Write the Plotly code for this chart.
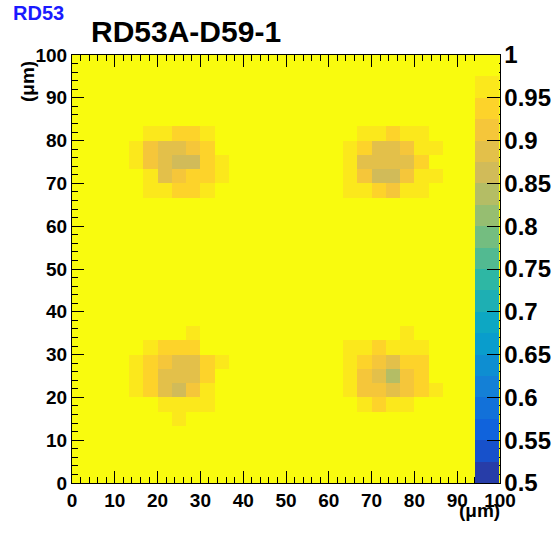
import plotly.graph_objects as go

# ---------------- data ----------------
N_BINS = 30                 # 30 x 30 bins over 0..100 um
X_RANGE = [0, 100]
Y_RANGE = [0, 100]
Z_MIN, Z_MAX = 0.5, 1.0
N_CONTOURS = 20

# efficiency levels
YEL, PAL, ORA, DOR, TAN, GRY, GRN = 1.0, 0.962, 0.938, 0.912, 0.888, 0.862, 0.838

# blobs: rows listed from top to bottom; origin = (first x bin, lowest y bin)
blob_top_left = [
    [YEL, PAL, PAL, ORA, ORA, PAL, YEL],
    [PAL, DOR, TAN, TAN, DOR, ORA, YEL],
    [PAL, DOR, TAN, GRY, GRY, ORA, PAL],
    [YEL, PAL, TAN, DOR, ORA, ORA, PAL],
    [YEL, PAL, PAL, ORA, ORA, PAL, YEL],
]
blob_top_left_origin = (4, 20)

blob_top_right = [
    [YEL, PAL, PAL, ORA, PAL, PAL, YEL],
    [PAL, ORA, TAN, TAN, DOR, PAL, PAL],
    [PAL, TAN, TAN, TAN, TAN, ORA, YEL],
    [PAL, DOR, GRY, GRY, DOR, PAL, PAL],
    [PAL, PAL, ORA, DOR, PAL, PAL, YEL],
]
blob_top_right_origin = (19, 20)

blob_bottom_left = [
    [YEL, YEL, YEL, YEL, PAL, YEL, YEL],
    [YEL, PAL, ORA, ORA, ORA, YEL, YEL],
    [PAL, ORA, DOR, TAN, TAN, ORA, PAL],
    [PAL, ORA, TAN, TAN, TAN, ORA, YEL],
    [PAL, ORA, TAN, GRY, DOR, PAL, YEL],
    [YEL, YEL, PAL, PAL, PAL, PAL, YEL],
    [YEL, YEL, YEL, PAL, YEL, YEL, YEL],
]
blob_bottom_left_origin = (4, 4)

blob_bottom_right = [
    [YEL, YEL, YEL, YEL, PAL, YEL, YEL],
    [PAL, PAL, ORA, PAL, PAL, PAL, YEL],
    [PAL, ORA, DOR, TAN, ORA, ORA, YEL],
    [PAL, DOR, TAN, GRN, DOR, ORA, YEL],
    [PAL, DOR, DOR, TAN, DOR, ORA, PAL],
    [YEL, PAL, ORA, PAL, PAL, YEL, YEL],
]
blob_bottom_right_origin = (19, 5)

x_tick_vals = [0, 10, 20, 30, 40, 50, 60, 70, 80, 90, 100]
cb_tick_vals = [0.5, 0.55, 0.6, 0.65, 0.7, 0.75, 0.8, 0.85, 0.9, 0.95, 1.0]
cb_tick_text = ["0.5", "0.55", "0.6", "0.65", "0.7", "0.75", "0.8", "0.85", "0.9", "0.95", "1"]

# ---------------- build matrix ----------------
z = [[YEL for _ in range(N_BINS)] for _ in range(N_BINS)]
for blob, (ix0, iy0) in [
    (blob_top_left, blob_top_left_origin),
    (blob_top_right, blob_top_right_origin),
    (blob_bottom_left, blob_bottom_left_origin),
    (blob_bottom_right, blob_bottom_right_origin),
]:
    for r, row in enumerate(reversed(blob)):
        for c, v in enumerate(row):
            z[iy0 + r][ix0 + c] = v

# ---------------- ROOT kBird palette, 20 contour bands ----------------
stops = [0.0, 0.125, 0.25, 0.375, 0.5, 0.625, 0.75, 0.875, 1.0]
red = [0.2082, 0.0592, 0.0780, 0.0232, 0.1802, 0.5301, 0.8186, 0.9956, 0.9764]
green = [0.1664, 0.3599, 0.5041, 0.6419, 0.7178, 0.7492, 0.7328, 0.7862, 0.9832]
blue = [0.5293, 0.8684, 0.8385, 0.7914, 0.6425, 0.4662, 0.3499, 0.1968, 0.0539]


def bird(t):
    t = min(max(t, 0.0), 1.0)
    for k in range(len(stops) - 1):
        if stops[k] <= t <= stops[k + 1]:
            f = (t - stops[k]) / (stops[k + 1] - stops[k])
            rgb = [a[k] + f * (a[k + 1] - a[k]) for a in (red, green, blue)]
            return "rgb(%d,%d,%d)" % tuple(round(255 * c) for c in rgb)
    return "rgb(0,0,0)"


colorscale = []
for i in range(N_CONTOURS):
    idx = int((i + 0.99) * 255 / N_CONTOURS)
    col = bird(idx / 254)
    colorscale.append([i / N_CONTOURS, col])
    colorscale.append([(i + 1) / N_CONTOURS, col])

# ---------------- figure ----------------
W, H = 556, 534
L, T = 72, 55
pw, ph = 428, 428
R, B = W - L - pw, H - T - ph
bar_left_px = 475


def px_x(x):  # page x -> paper fraction
    return (x - L) / pw


def px_y(y):  # page y -> paper fraction
    return (T + ph - y) / ph


font_family = "Liberation Sans, Arial, Helvetica, sans-serif"

fig = go.Figure(
    go.Heatmap(
        z=z,
        x0=(X_RANGE[1] - X_RANGE[0]) / N_BINS / 2,
        dx=(X_RANGE[1] - X_RANGE[0]) / N_BINS,
        y0=(Y_RANGE[1] - Y_RANGE[0]) / N_BINS / 2,
        dy=(Y_RANGE[1] - Y_RANGE[0]) / N_BINS,
        zmin=Z_MIN,
        zmax=Z_MAX,
        colorscale=colorscale,
        hoverinfo="skip",
        colorbar=dict(
            x=(bar_left_px - L) / pw,
            xanchor="left",
            xpad=0,
            y=0,
            yanchor="bottom",
            ypad=0,
            len=1,
            lenmode="fraction",
            thickness=24,
            thicknessmode="pixels",
            outlinewidth=0,
            tickmode="array",
            tickvals=cb_tick_vals,
            ticktext=cb_tick_text,
            ticks="inside",
            ticklen=12,
            tickwidth=1,
            tickcolor="black",
            tickfont=dict(family=font_family, size=24, color="black", weight="bold"),
        ),
    )
)

axis_common = dict(
    showgrid=False,
    zeroline=False,
    showline=True,
    linecolor="black",
    linewidth=1,
    mirror="ticks",
    ticks="inside",
    ticklen=12,
    tickwidth=1,
    tickcolor="black",
    tickmode="array",
    tickvals=x_tick_vals,
    minor=dict(dtick=2, tick0=0, ticks="inside", ticklen=6, tickwidth=1, tickcolor="black"),
    tickfont=dict(family=font_family, size=19, color="black", weight="bold"),
    fixedrange=True,
)

fig.update_xaxes(range=X_RANGE, **axis_common)
fig.update_yaxes(range=Y_RANGE, **axis_common)

fig.update_layout(
    width=W,
    height=H,
    margin=dict(l=L, r=R, t=T, b=B, autoexpand=False),
    paper_bgcolor="white",
    plot_bgcolor="white",
    showlegend=False,
    annotations=[
        dict(text="RD53A-D59-1", xref="paper", yref="paper",
             x=px_x(89), y=px_y(31.5), xanchor="left", yanchor="middle",
             showarrow=False, font=dict(family=font_family, size=30, color="black", weight="bold")),
        dict(text="RD53", xref="paper", yref="paper",
             x=px_x(11), y=px_y(13.5), xanchor="left", yanchor="middle",
             showarrow=False, font=dict(family=font_family, size=20, color="#1a1aff", weight="bold")),
        dict(text="(\u03bcm)", xref="paper", yref="paper",
             x=px_x(502), y=px_y(511), xanchor="right", yanchor="middle",
             showarrow=False, font=dict(family=font_family, size=19, color="black", weight="bold")),
        dict(text="(\u03bcm)", xref="paper", yref="paper", textangle=-90,
             x=px_x(27), y=px_y(82), xanchor="center", yanchor="middle",
             showarrow=False, font=dict(family=font_family, size=19, color="black", weight="bold")),
    ],
)

fig.write_html(
    "out.html",
    config={"displayModeBar": False},
    post_script="document.body.style.margin='0';document.body.style.overflow='hidden';",
)
